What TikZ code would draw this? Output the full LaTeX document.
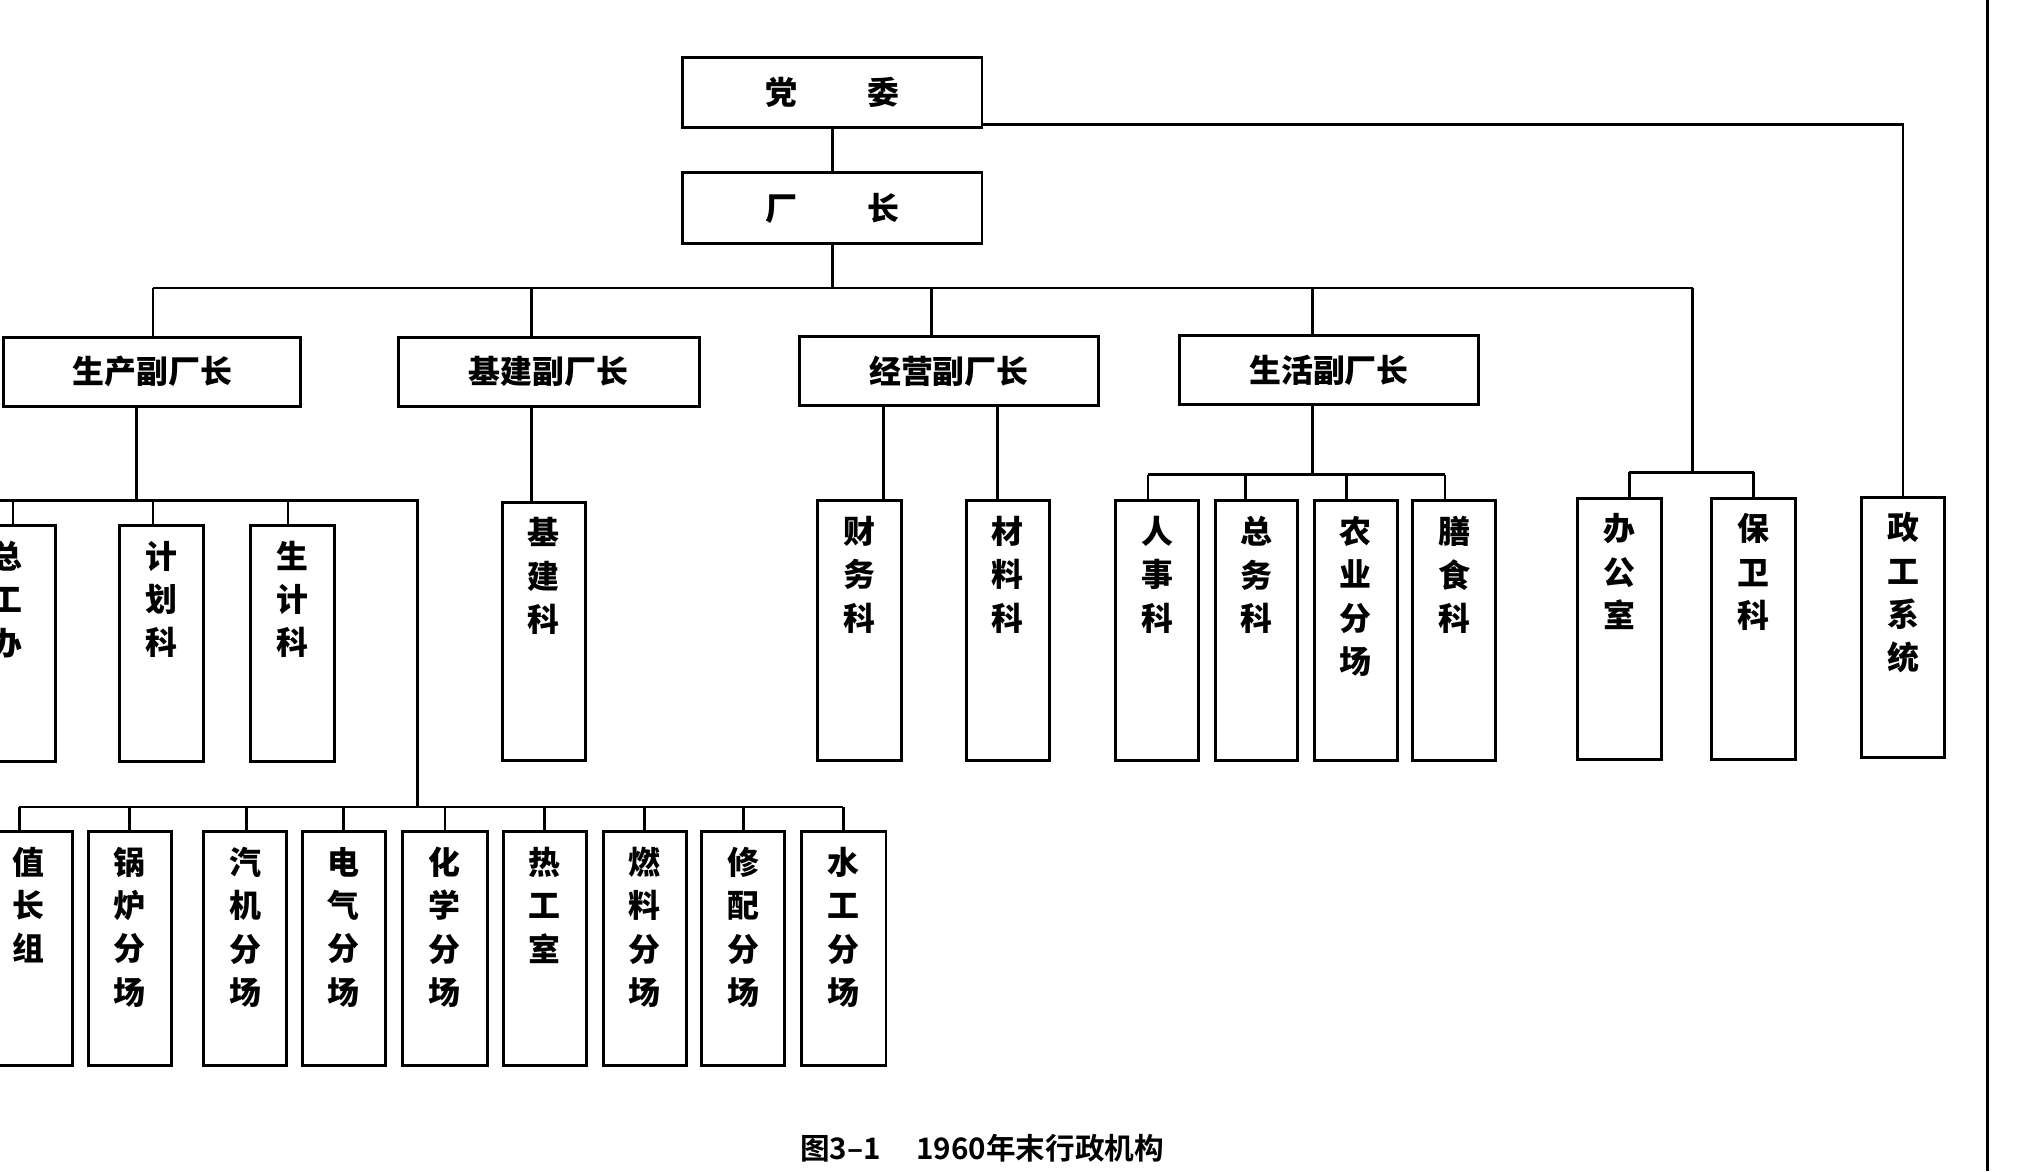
\documentclass[tikz,border=0pt]{standalone}
\usepackage{fontspec}
\setmainfont{Noto Sans CJK SC}
\newfontfamily\cjkb{Noto Sans CJK SC Bold}
\begin{document}
\begin{tikzpicture}[x=0.02cm,y=-0.02cm,line width=1.2pt,
  bx/.style={draw,line width=1.3pt,inner sep=0pt},
  tx/.style={font=\fontsize{14}{19}\selectfont\bfseries,align=center,inner sep=0pt,anchor=north}]
\newcommand\vb[6]{\node[bx,minimum width=#4*0.02cm,minimum height=#5*0.02cm,anchor=north] (#1) at (#2,#3) {};
  \node[tx] (#1t) at (#2,#3+12) {#6};}
\newcommand\hb[6]{\node[bx,minimum width=#4*0.02cm,minimum height=#5*0.02cm] (#1) at (#2,#3) {};
  \node[font=\fontsize{14}{19}\selectfont\bfseries] (#1t) at (#2,#3) {#6};}
\useasboundingbox (0,0) rectangle (1568,903);
\clip (0,0) rectangle (1568,903);
\hb{dw}{641.5}{71}{231}{54}{党\hspace{2.2em}委}
\hb{cz}{641.5}{160.5}{231}{55}{厂\hspace{2.2em}长}
\hb{sc}{117.5}{286.5}{229}{53}{生产副厂长}
\hb{jj}{423}{286.5}{232}{53}{基建副厂长}
\hb{jy}{731.5}{286}{231}{53}{经营副厂长}
\hb{sh}{1024.5}{285.5}{231}{53}{生活副厂长}
% row 3
\vb{zg}{5}{404}{76}{182}{总\\工\\办}
\vb{jh}{124.5}{404}{65}{182}{计\\划\\科}
\vb{sj}{225.5}{404}{65}{182}{生\\计\\科}
\vb{jjk}{419}{386}{64}{199}{基\\建\\科}
\vb{cw}{662.5}{385}{65}{200}{财\\务\\科}
\vb{cl}{777}{385}{64}{200}{材\\料\\科}
\vb{rs}{892}{385}{64}{200}{人\\事\\科}
\vb{zw}{968.5}{385}{63}{200}{总\\务\\科}
\vb{ny}{1045}{385}{64}{200}{农\\业\\分\\场}
\vb{ss}{1121}{385}{64}{200}{膳\\食\\科}
\vb{bg}{1248.5}{383}{65}{201}{办\\公\\室}
\vb{bw}{1351.5}{383}{65}{201}{保\\卫\\科}
\vb{zgx}{1467}{382}{64}{201}{政\\工\\系\\统}
% row 4
\vb{zz}{22}{640}{68}{180}{值\\长\\组}
\vb{gl}{100}{640}{64}{180}{锅\\炉\\分\\场}
\vb{qj}{189}{640}{64}{180}{汽\\机\\分\\场}
\vb{dq}{265}{640}{64}{180}{电\\气\\分\\场}
\vb{hx}{343}{640}{66}{180}{化\\学\\分\\场}
\vb{rg}{420}{640}{64}{180}{热\\工\\室}
\vb{rl}{497}{640}{64}{180}{燃\\料\\分\\场}
\vb{xp}{573}{640}{64}{180}{修\\配\\分\\场}
\vb{sg}{650.5}{640}{65}{180}{水\\工\\分\\场}
% connectors
\coordinate (z1) at (1467,96);
\draw (dw) -- (cz);
\draw (dw.east |- z1) -- (z1) -- (zgx.north);
\coordinate (b1l) at (118,222); \coordinate (b1r) at (1305,222);
\draw (cz.south) -- (cz.south |- b1l);
\draw (b1l) -- (b1r);
\draw (b1l) -- (sc.north -| b1l);
\draw (410,222) -- (jj.north -| 410,0);
\draw (718,222) -- (jy.north -| 718,0);
\draw (1012,222) -- (sh.north -| 1012,0);
\coordinate (b5) at (1305,364);
\draw (b1r) -- (b5);
\draw (1256,364) -- (1352,364);
\draw (1256,364) -- (bg.north -| 1256,0);
\draw (1352,364) -- (bw.north -| 1352,0);
% production
\coordinate (p1) at (105,386);
\draw (p1 |- sc.south) -- (p1);
\draw (0,386) -- (322,386) -- (322,622);
\draw (10,386) -- (zg.north -| 10,0);
\draw (118,386) -- (jh.north -| 118,0);
\draw (222,386) -- (sj.north -| 222,0);
\draw (15,622) -- (650,622);
\foreach \n/\x in {zz/15,gl/100,qj/190,dq/265,hx/343,rg/420,rl/497,xp/573,sg/650}
  \draw (\x,622) -- (\n.north -| \x,0);
% construction
\draw (410,0 |- jj.south) -- (jjk.north -| 410,0);
% business
\draw (681,0 |- jy.south) -- (cw.north -| 681,0);
\draw (769,0 |- jy.south) -- (cl.north -| 769,0);
% living
\draw (1012,0 |- sh.south) -- (1012,366);
\draw (885,366) -- (1114,366);
\foreach \n/\x in {rs/885,zw/960,ny/1038,ss/1114}
  \draw (\x,366) -- (\n.north -| \x,0);
% right page rule
\draw (1532,0) -- (1532,903);
\node[font=\fontsize{13}{16}\selectfont\cjkb] (cap) at (757,885) {图3–1\hspace{1.2em}1960年末行政机构};
\end{tikzpicture}
\end{document}
